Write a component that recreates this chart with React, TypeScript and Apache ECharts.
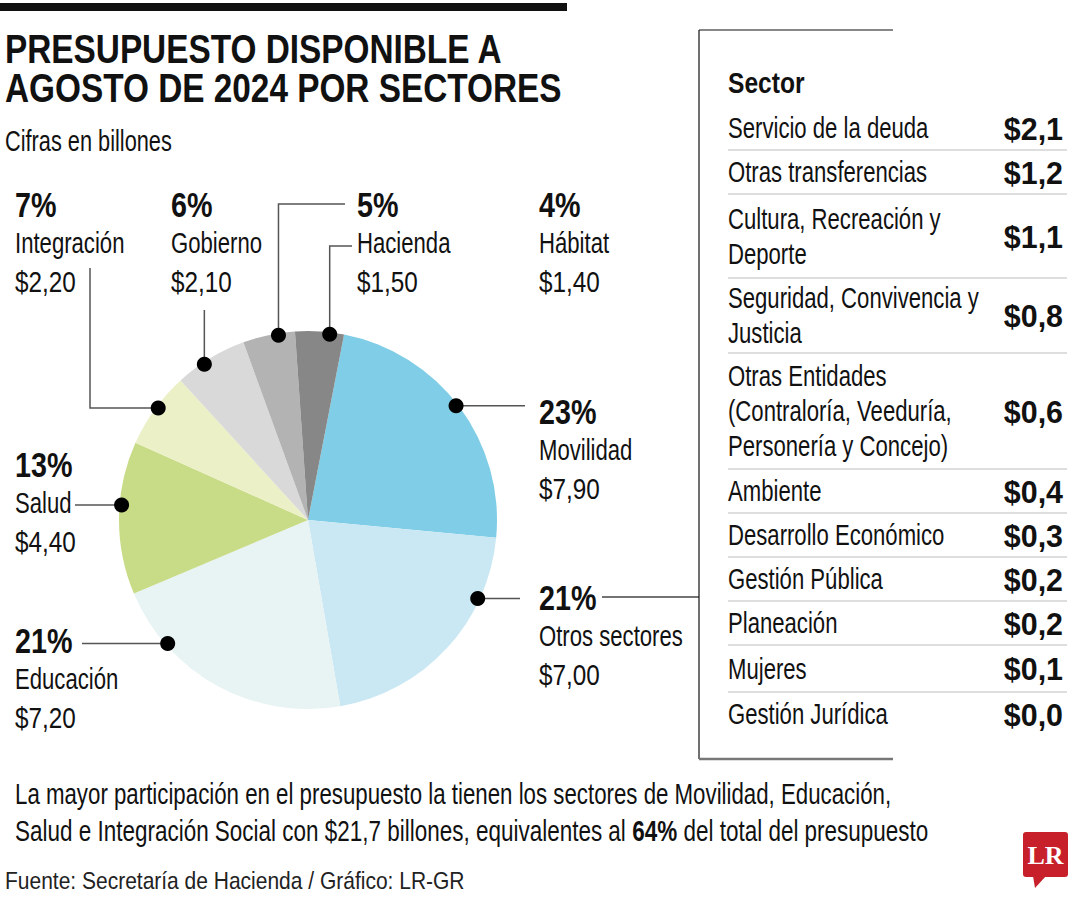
import React, { useEffect, useRef } from "react";
import * as echarts from "echarts";

// ---------- data ----------
const sectors = ["Movilidad", "Otros sectores", "Educación", "Salud", "Integración", "Gobierno", "Hacienda", "Hábitat"];
const sectorValues = [7.9, 7.0, 7.2, 4.4, 2.2, 2.1, 1.5, 1.4];
const sectorPercents = [23, 21, 21, 13, 7, 6, 5, 4];

const tableSectors = [
  "Servicio de la deuda",
  "Otras transferencias",
  "Cultura, Recreación y\nDeporte",
  "Seguridad, Convivencia y\nJusticia",
  "Otras Entidades\n(Contraloría, Veeduría,\nPersonería y Concejo)",
  "Ambiente",
  "Desarrollo Económico",
  "Gestión Pública",
  "Planeación",
  "Mujeres",
  "Gestión Jurídica",
];
const tableValues = [2.1, 1.2, 1.1, 0.8, 0.6, 0.4, 0.3, 0.2, 0.2, 0.1, 0.0];

const titleLines = ["PRESUPUESTO DISPONIBLE A", "AGOSTO DE 2024 POR SECTORES"];
const subtitle = "Cifras en billones";
const tableHeader = "Sector";
const noteLine1 = "La mayor participación en el presupuesto la tienen los sectores de Movilidad, Educación,";
const noteLine2a = "Salud e Integración Social con $21,7 billones, equivalentes al ";
const noteLine2b = "64%";
const noteLine2c = " del total del presupuesto";
const source = "Fuente: Secretaría de Hacienda / Gráfico: LR-GR";

// ---------- styles / layout ----------
const sectorColors = ["#7fcde6", "#c9e8f3", "#e8f3f3", "#c8db86", "#ecf0c7", "#d9d9d9", "#b3b3b3", "#878787"];
const FONT = '"Liberation Sans", Arial, sans-serif';
const SERIF = '"Liberation Serif", "DejaVu Serif", serif';
const TEXT = "#111111";
const LINE = "#555555";
const BODY = 29;
const NARROW = 0.763;

const PIE_CX = 308;
const PIE_CY = 520;
const PIE_R = 189;
const DOT_R = 187;
const START_ANGLE = 79;

type Step = { x?: number; y?: number };
const annotationLayout: { x: number; y: number; frac: number; path: Step[] }[] = [
  { x: 539, y: 412, frac: 0.49, path: [{ x: 525 }] },
  { x: 539, y: 598, frac: 0.26, path: [{ x: 520 }] },
  { x: 15, y: 641, frac: 0.76, path: [{ x: 82 }] },
  { x: 15, y: 465, frac: 0.585, path: [{ x: 75 }] },
  { x: 15, y: 205, frac: 0.54, path: [{ x: 90 }, { y: 268 }] },
  { x: 171, y: 205, frac: 0.39, path: [{ y: 310 }] },
  { x: 357, y: 205, frac: 0.68, path: [{ y: 204 }, { x: 345 }] },
  { x: 539, y: 205, frac: 0.71, path: [{ y: 246 }, { x: 352 }] },
];
const LABEL_GAP = 38;

const rowHeights = [44, 44, 84, 75, 116, 44, 44, 44, 44, 47, 44];
const TABLE_TOP = 106;
const TABLE_X = 728;
const TABLE_R = 1063;
const ROW_LINE = 35;

function txt(
  text: string,
  x: number,
  y: number,
  size: number,
  weight: string = "normal",
  align: string = "left",
  sx: number = NARROW,
  color: string = TEXT,
  family: string = FONT
) {
  return {
    type: "text",
    x,
    y,
    scaleX: sx,
    z: 100,
    silent: true,
    style: {
      text,
      fontSize: size,
      fontFamily: family,
      fontWeight: weight,
      fill: color,
      textAlign: align,
      textVerticalAlign: "middle",
      align,
      verticalAlign: "middle",
    },
  };
}

function line(x1: number, y1: number, x2: number, y2: number, color: string = LINE, w: number = 1.5) {
  return {
    type: "line",
    z: 90,
    silent: true,
    shape: { x1, y1, x2, y2 },
    style: { stroke: color, lineWidth: w },
  };
}

const fmt = (v: number, d: number) => "$" + v.toFixed(d).replace(".", ",");

export default function App() {
  const ref = useRef<HTMLDivElement>(null);

  useEffect(() => {
    if (!ref.current) return;
    const chart = echarts.init(ref.current, null, { renderer: "svg" });

    const total = sectorValues.reduce((a, b) => a + b, 0);
    const s0 = 90 - START_ANGLE; // clockwise from top
    const graphics: any[] = [];

    // top bar + titles
    graphics.push({ type: "rect", z: 100, silent: true, shape: { x: 0, y: 3, width: 567, height: 8 }, style: { fill: "#111" } });
    graphics.push(txt(titleLines[0], 5, 49, 40, "bold", "left", 0.834));
    graphics.push(txt(titleLines[1], 5, 88, 40, "bold", "left", 0.834));
    graphics.push(txt(subtitle, 5, 141, BODY, "normal", "left", 0.75));

    // pie annotations
    let cum = 0;
    sectorValues.forEach((v, i) => {
      const a0 = s0 + (cum / total) * 360;
      const a1 = a0 + (v / total) * 360;
      cum += v;
      const L = annotationLayout[i];
      const th = ((a0 + L.frac * (a1 - a0)) * Math.PI) / 180;
      const dx = PIE_CX + DOT_R * Math.sin(th);
      const dy = PIE_CY - DOT_R * Math.cos(th);
      const pts: number[][] = [[dx, dy]];
      let cx = dx;
      let cy = dy;
      L.path.forEach((st) => {
        if (st.x !== undefined) cx = st.x;
        if (st.y !== undefined) cy = st.y;
        pts.push([cx, cy]);
      });
      graphics.push({ type: "polyline", z: 90, silent: true, shape: { points: pts }, style: { stroke: LINE, lineWidth: 1.5, fill: "none" } });
      graphics.push({ type: "circle", z: 95, silent: true, shape: { cx: dx, cy: dy, r: 7.5 }, style: { fill: "#000" } });
      graphics.push(txt(sectorPercents[i] + "%", L.x, L.y, 35, "bold", "left", 0.82));
      graphics.push(txt(sectors[i], L.x, L.y + LABEL_GAP, BODY));
      graphics.push(txt(fmt(v, 2), L.x, L.y + 2 * LABEL_GAP + 1, 30, "normal", "left", 0.81));
    });

    // link from "Otros sectores" to table
    graphics.push(line(602, 597, 699, 597, "#444", 1.5));

    // table frame
    graphics.push(line(699, 30, 699, 759, "#111", 1.2));
    graphics.push(line(699, 30, 893, 30, "#111", 1.2));
    graphics.push(line(699, 759, 893, 759, "#777", 2.5));
    graphics.push(txt(tableHeader, TABLE_X, 83, 30, "bold", "left", 0.82));

    let y = TABLE_TOP;
    tableSectors.forEach((name, i) => {
      const h = rowHeights[i];
      const c = y + h / 2;
      const parts = name.split("\n");
      parts.forEach((p, k) => {
        graphics.push(txt(p, TABLE_X, c + (k - (parts.length - 1) / 2) * ROW_LINE, BODY));
      });
      graphics.push(txt(fmt(tableValues[i], 1), TABLE_R, c + 1, 32, "bold", "right", 0.95));
      y += h;
      if (i < tableSectors.length - 1) graphics.push(line(TABLE_X, y, 1067, y, "#bdbdbd", 1));
    });

    // note
    graphics.push(txt(noteLine1, 15, 794, BODY, "normal", "left", 0.768));
    graphics.push({
      type: "text",
      x: 15,
      y: 831,
      scaleX: 0.775,
      z: 100,
      silent: true,
      style: {
        text: "{n|" + noteLine2a + "}{b|" + noteLine2b + "}{n|" + noteLine2c + "}",
        fontSize: BODY,
        fontFamily: FONT,
        fill: TEXT,
        textAlign: "left",
        textVerticalAlign: "middle",
        align: "left",
        verticalAlign: "middle",
        rich: {
          n: { fontSize: BODY, fontFamily: FONT, fill: TEXT, fontWeight: "normal" },
          b: { fontSize: BODY, fontFamily: FONT, fill: TEXT, fontWeight: "bold" },
        },
      },
    });
    graphics.push(txt(source, 5, 881, 24, "normal", "left", 0.875, "#222"));

    // LR logo
    graphics.push({ type: "rect", z: 100, silent: true, shape: { x: 1023, y: 832, width: 45, height: 45, r: 3 }, style: { fill: "#c8202a" } });
    graphics.push({ type: "polygon", z: 100, silent: true, shape: { points: [[1033, 876], [1046, 876], [1035, 888]] }, style: { fill: "#c8202a" } });
    graphics.push(txt("LR", 1045.5, 855, 26, "bold", "center", 1, "#ffffff", SERIF));

    chart.setOption({
      animation: false,
      backgroundColor: "#ffffff",
      graphic: { elements: graphics },
      series: [
        {
          type: "pie",
          center: [PIE_CX, PIE_CY],
          radius: PIE_R,
          startAngle: START_ANGLE,
          clockwise: true,
          silent: true,
          label: { show: false },
          labelLine: { show: false },
          itemStyle: { borderWidth: 0 },
          emphasis: { disabled: true },
          data: sectors.map((n, i) => ({ name: n, value: sectorValues[i], itemStyle: { color: sectorColors[i] } })),
        },
      ],
    });

    return () => chart.dispose();
  }, []);

  return <div ref={ref} style={{ position: "absolute", left: 0, top: 0, width: 1080, height: 900 }} />;
}
